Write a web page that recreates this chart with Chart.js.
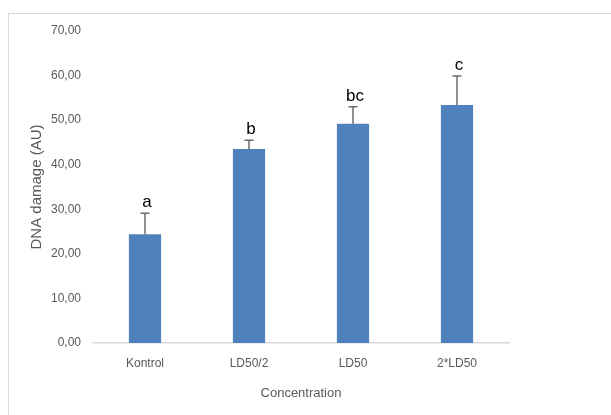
<!DOCTYPE html>
<html>
<head>
<meta charset="utf-8">
<script src="https://cdn.jsdelivr.net/npm/chart.js@4"></script>
<style>
  body { margin: 0; background: #fff; }
  #wrap { position: relative; width: 611px; height: 415px; overflow: hidden; }
  #frame { position: absolute; left: 8px; top: 13px; width: 700px; height: 500px;
           border-left: 1px solid #d9d9d9; border-top: 1px solid #d9d9d9; }
  #chart { position: absolute; left: 0; top: 0; }
</style>
</head>
<body>
<div id="wrap">
  <div id="frame"></div>
  <canvas id="chart" width="611" height="415"></canvas>
</div>
<script>
var categories = ["Kontrol", "LD50/2", "LD50", "2*LD50"];
var damage = [24.4, 43.5, 49.2, 53.4];
var errors = [4.7, 2.0, 3.8, 6.5];
var letters = ["a", "b", "bc", "c"];

// error bars + significance letters
var errorBarPlugin = {
  id: "errorBars",
  afterDatasetsDraw: function (chart) {
    var ctx = chart.ctx;
    var meta = chart.getDatasetMeta(0);
    var y = chart.scales.y;
    ctx.save();
    for (var i = 0; i < damage.length; i++) {
      var x = meta.data[i].x;
      var yTop = y.getPixelForValue(damage[i] + errors[i]);
      var yBar = y.getPixelForValue(damage[i]);
      ctx.strokeStyle = "#6b6b6b";
      ctx.lineWidth = 1.5;
      ctx.beginPath();
      ctx.moveTo(x, yBar);
      ctx.lineTo(x, yTop);
      ctx.moveTo(x - 4.5, yTop);
      ctx.lineTo(x + 4.5, yTop);
      ctx.stroke();

      ctx.fillStyle = "#000";
      ctx.font = "17px 'Liberation Sans'";
      ctx.textAlign = "center";
      ctx.textBaseline = "bottom";
      ctx.fillText(letters[i], x + 2, yTop - 2);
    }
    ctx.restore();
  }
};

var ctx = document.getElementById("chart").getContext("2d");
new Chart(ctx, {
  type: "bar",
  data: {
    labels: categories,
    datasets: [{
      label: "DNA damage",
      data: damage,
      backgroundColor: "#4f81bd",
      borderWidth: 0,
      barPercentage: 0.31,
      categoryPercentage: 1
    }]
  },
  options: {
    responsive: false,
    animation: false,
    layout: { padding: { left: 28, right: 102, top: 31, bottom: 6 } },
    plugins: { legend: { display: false }, tooltip: { enabled: false } },
    scales: {
      y: {
        min: 0, max: 70,
        grid: { display: false, drawTicks: false },
        border: { display: false },
        ticks: {
          stepSize: 10,
          padding: 12,
          color: "#595959",
          font: { family: "'Liberation Sans'", size: 12 },
          callback: function (v) { return v.toFixed(2).replace(".", ","); }
        },
        title: {
          display: true,
          text: "DNA damage (AU)",
          color: "#595959",
          font: { family: "'Liberation Sans'", size: 15 },
          padding: { top: 0, bottom: 0 }
        },
        afterFit: function (s) { s.width = 65; }
      },
      x: {
        grid: { display: false, drawTicks: false },
        border: { display: true, color: "#d9d9d9", width: 1.5 },
        ticks: {
          padding: 13,
          color: "#595959",
          font: { family: "'Liberation Sans'", size: 12 }
        },
        title: {
          display: true,
          text: "Concentration",
          color: "#595959",
          font: { family: "'Liberation Sans'", size: 13 },
          padding: { top: 0, bottom: 8 }
        },
        afterFit: function (s) { s.height = 66; }
      }
    }
  },
  plugins: [errorBarPlugin]
});
</script>
</body>
</html>
